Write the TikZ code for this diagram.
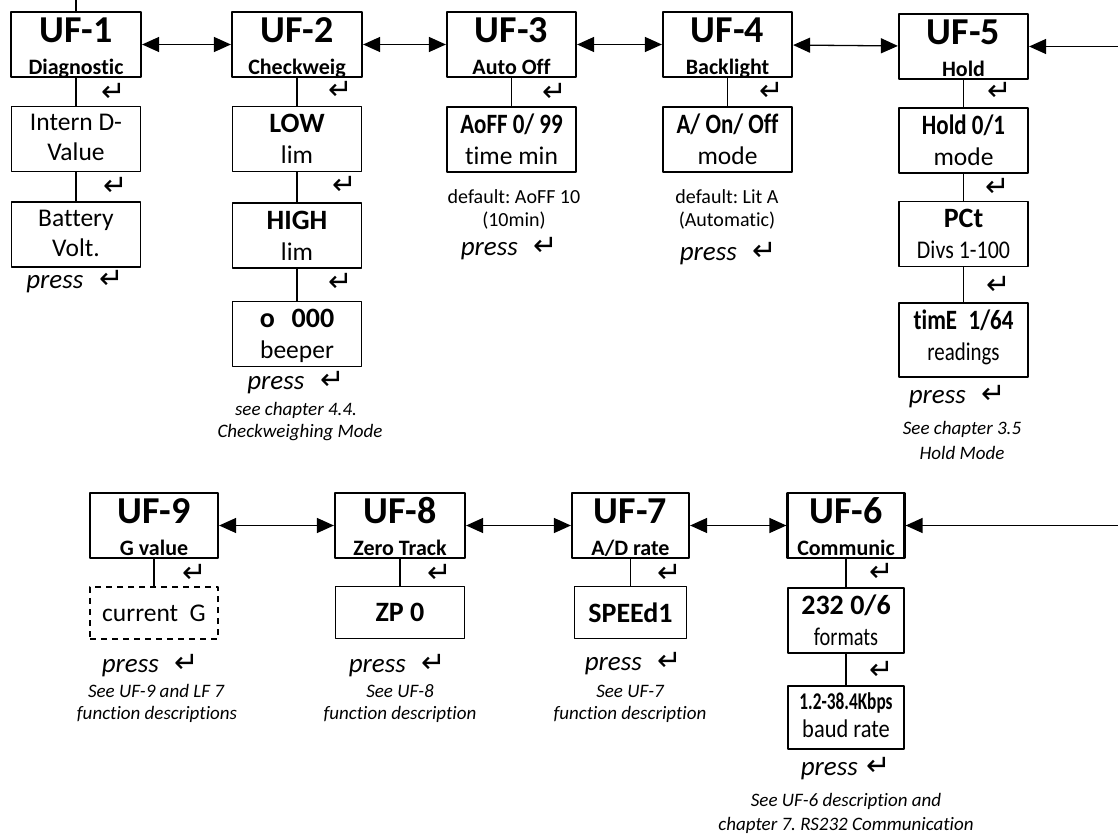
\documentclass[tikz,border=0pt]{standalone}
\usepackage{fontspec}
\setmainfont{Carlito}[Ligatures=NoCommon]
\newfontfamily\retfont{DejaVu Sans}
\usepackage{graphicx}
\usetikzlibrary{arrows.meta}
\newcommand{\narrowtxt}[2][0.82]{\scalebox{#1}[1]{#2}}
\newcommand{\rt}{{\retfont\upshape\fontsize{29}{29}\selectfont ↵}}
\frenchspacing

\begin{document}
\begin{tikzpicture}[x=1pt, y=-1pt, line join=round,
  font=\fontsize{25.5}{30}\selectfont,
  >={Triangle[length=17pt,width=15pt]},
  conn/.style={line width=1.2pt},
  link/.style={<->, line width=1.3pt},
  uf/.style 2 args={draw, line width=2.2pt, minimum width=130pt, minimum height=65pt, inner sep=0pt,
    label={[anchor=base, yshift=-32pt, font=\fontsize{38}{40}\selectfont\bfseries]north:#1},
    label={[anchor=base, yshift=4pt, font=\fontsize{22}{24}\selectfont\bfseries]south:#2}},
  txtbox/.style 2 args={draw, line width=1.3pt, minimum width=129pt, minimum height=65pt, inner sep=0pt,
    label={[anchor=base, yshift=-25pt]north:#1},
    label={[anchor=base, yshift=-55pt]north:#2}},
  valbox/.style 2 args={draw, line width=1.3pt, minimum width=129pt, minimum height=65pt, inner sep=0pt,
    label={[anchor=base, yshift=-27pt, font=\fontsize{28}{30}\selectfont\bfseries]north:#1},
    label={[anchor=base, yshift=-58pt]north:#2}},
  onebox/.style={draw, line width=1.3pt, minimum height=52pt, inner sep=0pt,
    font=\fontsize{28}{30}\selectfont\bfseries},
  ret/.style={font=\retfont\fontsize{29}{29}\selectfont},
  press/.style={anchor=base, font=\fontsize{27}{30}\selectfont\itshape},
  note/.style={anchor=base, font=\fontsize{19}{22}\selectfont\itshape},
  deflt/.style={anchor=base, font=\fontsize{20}{22}\selectfont}]
\useasboundingbox (0,0) rectangle (1118,834);

% top row
\node[uf={UF-1}{Diagnostic}] (uf1) at (76,44.5) {};
\node[uf={UF-2}{Checkweig}] (uf2) at (297,44.5) {};
\node[uf={UF-3}{Auto Off}, minimum width=129pt] (uf3) at (511.5,44.5) {};
\node[uf={UF-4}{Backlight}, minimum width=129pt] (uf4) at (727.5,44.5) {};
\node[uf={UF-5}{Hold}, minimum width=129pt] (uf5) at (963.5,46.5) {};
\coordinate (in1) at (76,0);
\coordinate (in5) at (1118,46.5);
\draw[conn] (in1) -- (uf1);
\draw[link] (uf1) -- (uf2);
\draw[link] (uf2) -- (uf3);
\draw[link] (uf3) -- (uf4);
\draw[link] (uf4) -- (uf5);
\draw[->, line width=1.3pt] (in5) -- (uf5);

% UF-1
\node[txtbox={Intern D-}{Value}] (d1) at (76,139) {};
\node[txtbox={Battery}{Volt.}] (d2) at (76,234.5) {};
\draw[conn] (uf1) -- (d1);
\draw[conn] (d1) -- (d2);
\node[ret] (r11) at (114,92) {↵};
\node[ret] (r12) at (116,186.5) {↵};
\node[press] (p1) at (75,288) {press\hspace{16pt}\rt};

% UF-2
\node[valbox={LOW}{lim}] (c1) at (297,139) {};
\node[valbox={HIGH}{lim}] (c2) at (297,235.5) {};
\node[valbox={o\hspace{0.6em}000}{beeper}] (c3) at (297,334) {};
\draw[conn] (uf2) -- (c1);
\draw[conn] (c1) -- (c2);
\draw[conn] (c2) -- (c3);
\node[ret] (r21) at (340.5,90.5) {↵};
\node[ret] (r22) at (345,185.5) {↵};
\node[ret] (r23) at (340.5,282.5) {↵};
\node[press] (p2) at (296,389) {press\hspace{16pt}\rt};
\node[note] (n21) at (296,415) {see chapter 4.4.};
\node[note] (n22) at (300,437) {Checkweighing Mode};

% UF-3
\node[valbox={\narrowtxt{AoFF 0/ 99}}{time min}] (a1) at (511.5,139.5) {};
\draw[conn] (uf3) -- (a1);
\node[ret] (r31) at (554.5,92.5) {↵};
\node[deflt] (n31) at (514,204) {default: AoFF 10};
\node[deflt] (n32) at (514,227) {(10min)};
\node[press] (p3) at (509.5,255) {press\hspace{16pt}\rt};

% UF-4
\node[valbox={\narrowtxt{A/ On/ Off}}{mode}] (b1) at (727.5,139.5) {};
\draw[conn] (uf4) -- (b1);
\node[ret] (r41) at (771.5,91.5) {↵};
\node[deflt] (n41) at (727,204) {default: Lit A};
\node[deflt] (n42) at (727,227) {(Automatic)};
\node[press] (p4) at (728.5,260) {press\hspace{16pt}\rt};

% UF-5
\node[valbox={\narrowtxt{Hold 0/1}}{mode}] (h1) at (963.5,140.5) {};
\node[valbox={PCt}{\narrowtxt[0.86]{Divs 1-100}}] (h2) at (963.5,234) {};
\node[valbox={\narrowtxt{timE\hspace{0.5em}1/64}}{\narrowtxt{readings}}, minimum height=74pt] (h3) at (963.5,340) {};
\draw[conn] (uf5) -- (h1);
\draw[conn] (h1) -- (h2);
\draw[conn] (h2) -- (h3);
\node[ret] (r51) at (1000,91.5) {↵};
\node[ret] (r52) at (997.5,187.5) {↵};
\node[ret] (r53) at (998.5,285) {↵};
\node[press] (p5) at (957.5,403) {press\hspace{16pt}\rt};
\node[note] (n51) at (962,434) {See chapter 3.5};
\node[note] (n52) at (962,459) {Hold Mode};

% bottom row
\node[uf={UF-9}{G value}, minimum width=128pt] (uf9) at (154,525.5) {};
\node[uf={UF-8}{Zero Track}] (uf8) at (400,525.5) {};
\node[uf={UF-7}{A/D rate}, minimum width=117pt] (uf7) at (630.5,525.5) {};
\node[uf={UF-6}{Communic}, minimum width=117pt] (uf6) at (846,525.5) {};
\coordinate (in6) at (1118,525.5);
\draw[link] (uf9) -- (uf8);
\draw[link] (uf8) -- (uf7);
\draw[link] (uf7) -- (uf6);
\draw[->, line width=1.3pt] (in6) -- (uf6);

% UF-9
\node[onebox, dash pattern=on 6pt off 5pt, minimum width=128pt, font=\fontsize{25.5}{30}\selectfont] (g1) at (154,613) {current\hspace{0.45em}G};
\draw[conn] (uf9) -- (g1);
\node[ret] (r91) at (195,573) {↵};
\node[press] (p9) at (150.5,672) {press\hspace{16pt}\rt};
\node[note] (n91) at (156,697) {See UF-9 and LF 7};
\node[note] (n92) at (157,719) {function descriptions};

% UF-8
\node[onebox, minimum width=129pt] (z1) at (400,612.5) {ZP 0};
\draw[conn] (uf8) -- (z1);
\node[ret] (r81) at (440,573) {↵};
\node[press] (p8) at (397.5,672) {press\hspace{16pt}\rt};
\node[note] (n81) at (400,697) {See UF-8};
\node[note] (n82) at (400,719) {function description};

% UF-7
\node[onebox, minimum width=112pt] (s1) at (630.5,612.5) {SPEEd1};
\draw[conn] (uf7) -- (s1);
\node[ret] (r71) at (670,573) {↵};
\node[press] (p7) at (633.5,670) {press\hspace{16pt}\rt};
\node[note] (n71) at (630,697) {See UF-7};
\node[note] (n72) at (630,719) {function description};

% UF-6
\node[valbox={232 0/6}{\narrowtxt[0.8]{formats}}, minimum width=116pt] (k1) at (846,620.5) {};
\node[draw, line width=1.3pt, minimum width=116pt, minimum height=63pt, inner sep=0pt,
  label={[anchor=base, yshift=-24pt, font=\fontsize{24}{26}\selectfont\bfseries]north:\narrowtxt[0.72]{1.2-38.4Kbps}},
  label={[anchor=base, yshift=-52pt]north:\narrowtxt[0.88]{baud rate}}] (k2) at (846,717.5) {};
\draw[conn] (uf6) -- (k1);
\draw[conn] (k1) -- (k2);
\node[ret] (r61) at (882,572) {↵};
\node[ret] (r62) at (882,670) {↵};
\node[press] (p6) at (846,775) {press\hspace{9pt}\rt};
\node[note] (n61) at (846,806) {See UF-6 description and};
\node[note] (n62) at (846,830) {chapter 7. RS232 Communication};
\end{tikzpicture}
\end{document}
